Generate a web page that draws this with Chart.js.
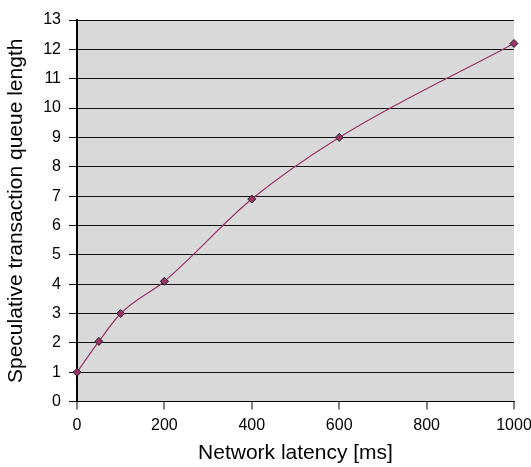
<!DOCTYPE html>
<html>
<head>
<meta charset="utf-8">
<script src="https://cdn.jsdelivr.net/npm/chart.js@4"></script>
<style>
  html, body { margin: 0; padding: 0; background: #fff; }
  #wrap { width: 531px; height: 467px; }
</style>
</head>
<body>
<div id="wrap"><canvas id="chart1"></canvas></div>
<script>
// latency values (ms) and queue lengths
var latency = [0, 50, 100, 200, 400, 600, 1000];
var queueLength = [1, 2.05, 3, 4.1, 6.9, 9, 12.2];
var xTicks = [0, 200, 400, 600, 800, 1000];
var yMax = 13;

var plotBg = {
  id: 'plotBg',
  beforeDraw: function (chart) {
    var a = chart.chartArea, ctx = chart.ctx;
    ctx.save();
    ctx.fillStyle = '#d9d9d9';
    ctx.fillRect(a.left, a.top, a.right - a.left, a.bottom - a.top);
    ctx.restore();
  }
};

Chart.defaults.font.family = 'Arial, "Liberation Sans", sans-serif';
Chart.defaults.color = '#000';

var chart1 = new Chart(document.getElementById('chart1'), {
  type: 'scatter',
  data: {
    datasets: [{
      data: latency.map(function (x, i) { return { x: x, y: queueLength[i] }; }),
      showLine: true,
      clip: false,
      borderColor: '#993366',
      borderWidth: 1.2,
      tension: 0.4,
      cubicInterpolationMode: 'monotone',
      pointStyle: 'rectRot',
      pointRadius: 4,
      pointBackgroundColor: '#993366',
      pointBorderColor: '#222',
      pointBorderWidth: 1
    }]
  },
  options: {
    responsive: true,
    maintainAspectRatio: false,
    animation: false,
    layout: { padding: { top: 20, right: 0, bottom: 1, left: 4 } },
    plugins: { legend: { display: false }, tooltip: { enabled: false } },
    scales: {
      x: {
        type: 'linear',
        min: 0,
        max: 1000,
        afterBuildTicks: function (s) { s.ticks = xTicks.map(function (v) { return { value: v }; }); },
        afterFit: function (s) { s.paddingRight = 17; },
        grid: { drawOnChartArea: false, drawTicks: true, tickLength: 8, color: '#808080', lineWidth: 2 },
        border: { display: true, color: '#000', width: 1 },
        ticks: { font: { size: 16 }, padding: 6, maxRotation: 0, callback: function (v) { return String(v); } },
        title: { display: true, text: 'Network latency [ms]', font: { size: 21 }, padding: { top: 0, bottom: 0 } }
      },
      y: {
        min: 0,
        max: yMax,
        ticks: { stepSize: 1, font: { size: 16 }, padding: 8 },
        grid: { color: '#111', lineWidth: 1, tickLength: 8 },
        border: { display: true, color: '#000', width: 2 },
        title: { display: true, text: 'Speculative transaction queue length', font: { size: 21 }, padding: { top: 0, bottom: 6 } }
      }
    }
  },
  plugins: [plotBg]
});
</script>
</body>
</html>
